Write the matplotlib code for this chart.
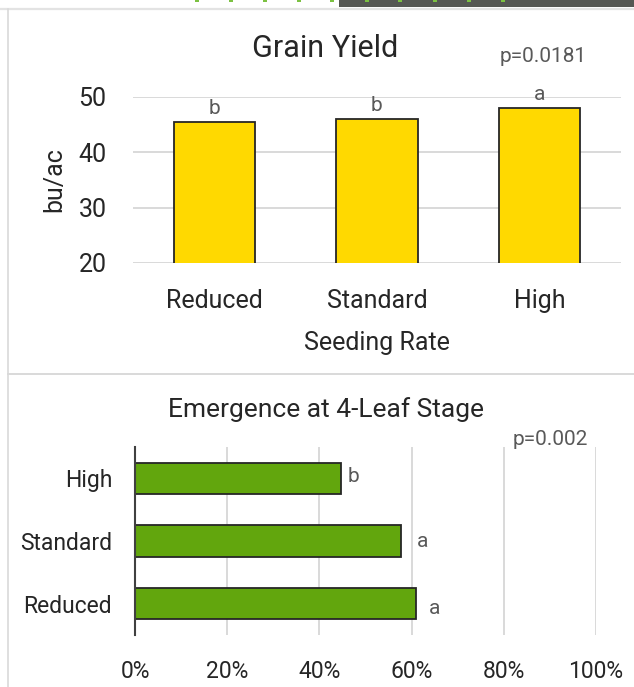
import matplotlib
matplotlib.use("Agg")
import matplotlib.pyplot as plt
from matplotlib.patches import Rectangle
from matplotlib.lines import Line2D
from matplotlib.ticker import PercentFormatter

plt.rcParams['font.family'] = ['Roboto', 'DejaVu Sans']

# data
rates = ["Reduced", "Standard", "High"]
yield_bu = [45.5, 46.0, 48.0]
yield_letters = ["b", "b", "a"]
yield_p = "p=0.0181"

emerg_pct = [61.0, 57.7, 44.7]          # Reduced, Standard, High
emerg_letters = ["a", "a", "b"]
emerg_p = "p=0.002"

W, H = 634, 687
fig = plt.figure(figsize=(W / 100, H / 100), dpi=100)

def px_axes(x0, y0, x1, y1, **kw):
    # pixel box (from top-left) -> figure axes
    return fig.add_axes([x0 / W, 1 - y1 / H, (x1 - x0) / W, (y1 - y0) / H], **kw)

# background: panel frames and the cropped strip at the top
bg = fig.add_axes([0, 0, 1, 1], zorder=-5)
bg.set_xlim(0, W)
bg.set_ylim(H, 0)
bg.axis("off")
bg.add_patch(Rectangle((339, 0), W - 339, 7, color="#555753", lw=0))
for gx in [197, 231, 265, 299, 332, 367, 400, 435, 469, 503]:
    bg.add_patch(Rectangle((gx - 2, 0), 4, 2, color="#7cc142", lw=0))
frame = "#d9d9d9"
bg.add_line(Line2D([0, W], [8.5, 8.5], color="#e3e3e3", lw=1.6))
bg.add_line(Line2D([8, 8], [8.5, H], color=frame, lw=1.2))
bg.add_line(Line2D([8, W], [374, 374], color=frame, lw=1.4))

dark = "#262626"
grey = "#595959"
grid = "#d9d9d9"

# ---- Grain yield ----
ax1 = px_axes(133, 97, 621, 263)
x = range(len(rates))
ax1.bar(x, yield_bu, width=0.5, color="#ffd900", edgecolor=dark, linewidth=1.3, zorder=3)
ax1.set_xlim(-0.5, 2.5)
ax1.set_ylim(20, 50)
ax1.set_yticks([20, 30, 40, 50])
ax1.yaxis.grid(True, color=grid, lw=1.4)
ax1.set_axisbelow(True)
for s in ax1.spines.values():
    s.set_visible(False)
ax1.tick_params(length=0)
ax1.tick_params(axis="y", pad=19, labelsize=18, labelcolor=dark)
ax1.tick_params(axis="x", pad=19, labelsize=18, labelcolor=dark)
ax1.set_xticks(list(x))
ax1.set_xticklabels(rates)
ax1.set_xlabel("Seeding Rate", fontsize=18, color=dark)
ax1.xaxis.set_label_coords(0.5, -0.41)
ax1.set_ylabel("bu/ac", fontsize=18, color=dark)
ax1.yaxis.set_label_coords(-0.137, 0.5)
for i, (v, t) in enumerate(zip(yield_bu, yield_letters)):
    ax1.annotate(t, (i, v), xytext=(0, 8), textcoords="offset pixels",
                 ha="center", va="baseline", fontsize=15, color=grey,
                 annotation_clip=False)
fig.text(325 / W, 1 - 57 / H, "Grain Yield", ha="center", va="baseline",
         fontsize=22, color=dark)
fig.text(587 / W, 1 - 62 / H, yield_p, ha="right", va="baseline",
         fontsize=15, color=grey)

# ---- Emergence ----
ax2 = px_axes(135, 447, 596, 635)
ax2.barh(range(len(rates)), emerg_pct, height=0.5, color="#62a60d",
         edgecolor=dark, linewidth=1.3, zorder=3)
ax2.set_ylim(-0.5, 2.5)
ax2.set_xlim(0, 100)
ax2.set_xticks([0, 20, 40, 60, 80, 100])
ax2.xaxis.set_major_formatter(PercentFormatter(decimals=0))
ax2.xaxis.grid(True, color=grid, lw=1.4)
ax2.set_axisbelow(True)
for k in ["top", "right", "bottom"]:
    ax2.spines[k].set_visible(False)
ax2.spines["left"].set_color("#404040")
ax2.spines["left"].set_linewidth(1.5)
ax2.spines["left"].set_zorder(4)
ax2.tick_params(length=0)
ax2.tick_params(axis="x", pad=18, labelsize=16.5, labelcolor=dark)
ax2.tick_params(axis="y", pad=16.5, labelsize=16.5, labelcolor=dark)
ax2.set_yticks(range(len(rates)))
ax2.set_yticklabels(rates)
letter_gap = [13, 16, 7]   # pixels from bar end, as placed in the original
letter_drop = [10, 6, 4]
for i, (v, t) in enumerate(zip(emerg_pct, emerg_letters)):
    ax2.annotate(t, (v, i), xytext=(letter_gap[i], -letter_drop[i]),
                 textcoords="offset pixels", ha="left", va="baseline",
                 fontsize=15, color=grey, annotation_clip=False)
fig.text(326 / W, 1 - 417 / H, "Emergence at 4-Leaf Stage", ha="center",
         va="baseline", fontsize=19, color=dark)
fig.text(588 / W, 1 - 445 / H, emerg_p, ha="right", va="baseline",
         fontsize=15, color=grey)

fig.savefig("out.png", dpi=100)
